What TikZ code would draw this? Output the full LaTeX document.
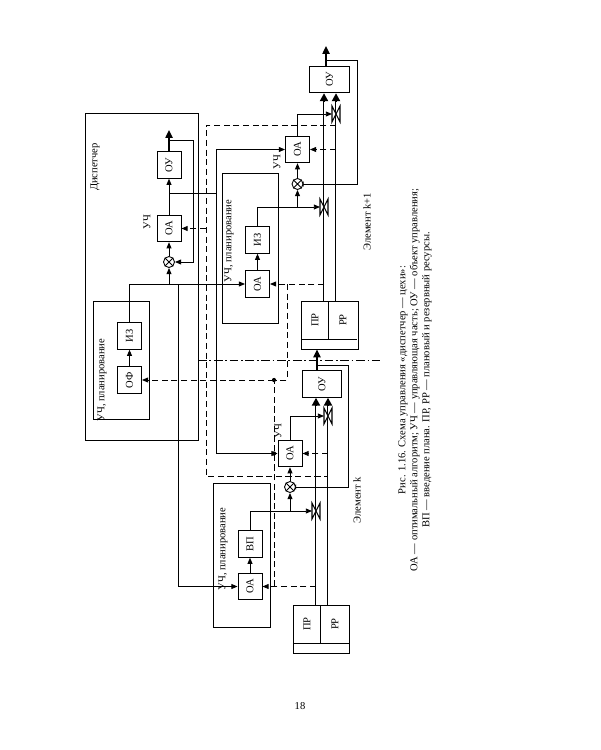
\documentclass[tikz,border=0pt]{standalone}
\usepackage{fontspec}
\setmainfont{Liberation Serif}
\usetikzlibrary{arrows.meta}
\newcommand\R[1]{\rotatebox{90}{#1}}
\newcommand\SumNode[2]{%
    \node[sum] (#1) at (#2) {};
    \draw (#1.45) -- (#1.225) (#1.135) -- (#1.315);
}
\newcommand\Valve[1]{%
    \coordinate (#1in) at ([shift={(-4,0)}]#1);
    \draw[fill=white,line width=0.6pt] ([shift={(-4,-8)}]#1) -- ([shift={(-4,8)}]#1) -- ([shift={(4,-8)}]#1) -- ([shift={(4,8)}]#1) -- cycle;
}
\newcommand\Pipe[2]{%
    \draw[line width=1.7pt,-{Triangle[length=4.5pt,width=4.5pt]}] (#1) -- (#2);
    \draw[white,line width=0.5pt,shorten >=5pt] (#1) -- (#2);
}
\newcommand\ResLabels[4]{% block, divider x, top y, prefix
    \draw (#1.south west) ++(0,-10) -- ++(56,0);
    \draw (#2,#3) -- (#2,#3+38);
    \node (#4pr) at (#2-13,#3+19) {\R{ПР}};
    \node (#4rr) at (#2+15,#3+19) {\R{РР}};
}

\begin{document}
\begin{tikzpicture}[x=0.02cm,y=-0.02cm,line width=0.5pt,
    >={Triangle[length=3.5pt,width=2.8pt]},
    every node/.style={font=\fontsize{6}{6.8}\selectfont},
    box/.style={draw,fill=white,minimum width=0.48cm,minimum height=0.53cm,inner sep=0pt},
    wbox/.style={box,minimum width=0.79cm},
    sum/.style={draw,circle,fill=white,minimum size=0.22cm,inner sep=0pt},
    resbox/.style={draw,minimum width=1.13cm,minimum height=0.96cm,inner sep=0pt},
    sig/.style={dash pattern=on 3.5pt off 2pt},
    chain/.style={dash pattern=on 5pt off 1.5pt on 1pt off 1.5pt},
    outflow/.style={-{Triangle[length=4.5pt,width=4pt]},line width=1.1pt}]
\useasboundingbox (0,0) rectangle (600,750);

% dispatcher
\draw (85,113) rectangle (198,440);
\node (dName) at (95,167) {\R{Диспетчер}};
\node[box] (dOU) at (169,165) {\R{ОУ}};
\node[box] (dOA) at (169,228.5) {\R{ОА}};
\node (dUch) at (147,222) {\R{УЧ}};
\SumNode{dSum}{169,262}
\draw (93,301) rectangle (149,419);
\node (dPlan) at (102,380) {\R{УЧ, планирование}};
\node[box] (dIZ) at (129.5,336) {\R{ИЗ}};
\node[box] (dOF) at (129.5,380) {\R{ОФ}};

% element k+1
\node[wbox] (aOU) at (329.5,79.5) {\R{ОУ}};
\node[box] (aOA) at (297.5,149.5) {\R{ОА}};
\node (aUch) at (277,162) {\R{УЧ}};
\draw (222,173) rectangle (278,323);
\node (aPlan) at (229,241) {\R{УЧ, планирование}};
\node[box] (aIZ) at (257.5,240) {\R{ИЗ}};
\node[box] (aPOA) at (257.5,284) {\R{ОА}};
\node[resbox] (aRes) at (330,325) {};
\ResLabels{aRes}{328}{301}{a}
\coordinate (aV1) at (336,114);
\coordinate (aV2) at (324,207);

% element k
\node[wbox] (bOU) at (322,384) {\R{ОУ}};
\node[box] (bOA) at (290,453.5) {\R{ОА}};
\node (bUch) at (278,431) {\R{УЧ}};
\draw (213,483) rectangle (270,627);
\node (bPlan) at (223,549) {\R{УЧ, планирование}};
\node[box] (bVP) at (250,544) {\R{ВП}};
\node[box] (bPOA) at (250,586.5) {\R{ОА}};
\node[resbox] (bRes) at (321.5,629) {};
\ResLabels{bRes}{320}{605}{b}
\coordinate (bV1) at (328,416);
\coordinate (bV2) at (316,511);

% resources
\Pipe{aRes.north -| aV2}{aOU.south -| aV2}
\Pipe{aRes.north -| aV1}{aOU.south -| aV1}
\Pipe{bRes.north -| bV2}{bOU.south -| bV2}
\Pipe{bRes.north -| bV1}{bOU.south -| bV1}
\Valve{aV1} \Valve{aV2} \Valve{bV1} \Valve{bV2}

% outputs and feedback
\coordinate (dOut) at (169,130);
\coordinate (dFb) at (169,140);
\coordinate (aOut) at (326,46);
\coordinate (aFb) at (326,60);
\coordinate (bOut) at (317,365);
\draw[outflow] (dOU) -- (dOut);
\draw[outflow] (aOU.north -| aOut) -- (aOut);
\draw[outflow] (bOU.north -| bOut) -- (aRes.south -| bOut);
\draw[->] (dFb) -- (193,140) |- (dSum.east);
\draw[->] (aFb) -- (357,60) |- (297.5,184);
\draw[->] (bOut) -- (348,365) |- (290,487);
\SumNode{aSum}{297.5,184}
\SumNode{bSum}{290,487}

% control
\draw[->] (dSum) -- (dOA);
\draw[->] (dOA) -- (dOU);
\draw[->] (dOF) -- (dIZ);
\draw[->] (aSum) -- (aOA);
\draw[->] (aOA.north) |- (aV1in);
\draw[->] (aPOA) -- (aIZ);
\draw[->] (aIZ.north) |- (aV2in);
\draw[->] (aSum |- aV2) -- (aSum);
\draw[->] (bSum) -- (bOA);
\draw[->] (bOA.north) |- (bV1in);
\draw[->] (bPOA) -- (bVP);
\draw[->] (bVP.north) |- (bV2in);
\draw[->] (bSum |- bV2) -- (bSum);

% dispatcher to elements
\coordinate (dCtl) at (169,193);
\coordinate (bus) at (216,193);
\coordinate (dPl) at (178,284);
\draw (dCtl) -- (bus);
\draw[->] (bus) |- (aOA.west);
\draw[->] (bus) |- (bOA.west);
\draw[->] (dIZ.north) |- (aPOA.west);
\draw[->] (dSum |- aPOA.west) -- (dSum);
\draw[->] (dPl) |- (bPOA.west);

% state signals
\coordinate (aTap) at (336,125);
\coordinate (corner) at (206,125);
\coordinate (bTap) at (328,476);
\coordinate (aPrJ) at (287,284);
\coordinate (mJ) at (274,380);
\draw[sig] (aTap) -- (corner) |- (bTap);
\draw[sig,->] (aOA.east -| aV1) -- (aOA.east);
\draw[sig,->] (bOA.east -| bV1) -- (bOA.east);
\draw[sig,->] (dOA.east -| corner) -- (dOA.east);
\draw[sig,->] (aPOA.east -| aV2) -- (aPOA.east);
\draw[sig] (aPrJ) |- (mJ);
\draw[sig,->] (mJ) -- (dOF.east);
\draw[sig,->] (bPOA.east -| bV2) -- (bPOA.east);
\draw[sig] (bPOA.east -| mJ) -- (mJ);
\fill (mJ) circle (1.2pt);
\fill (bOA.west -| mJ) circle (1.2pt);

\draw[chain] (198,360) -- (380,360);
\node (kName) at (357,500) {\R{Элемент k}};
\node (k1Name) at (367,222) {\R{Элемент k+1}};

\node[rotate=90,align=center] (caption) at (415,380) {Рис. 1.16. Схема управления «диспетчер — цехи»:\\
ОА — оптимальный алгоритм; УЧ — управляющая часть; ОУ — объект управления;\\
ВП — введение плана. ПР, РР — плановый и резервный ресурсы.};
\node (page) at (300,706) {18};
\end{tikzpicture}
\end{document}
